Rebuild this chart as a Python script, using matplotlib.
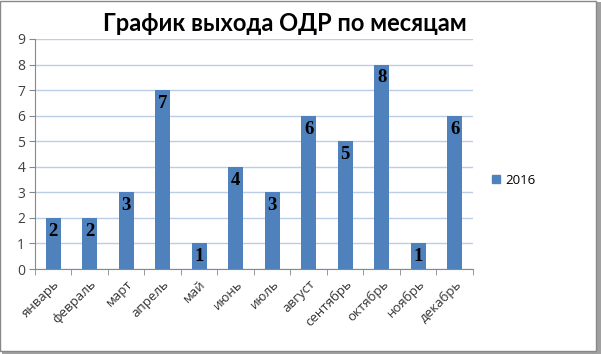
import matplotlib
matplotlib.use("Agg")
import matplotlib.pyplot as plt
from matplotlib.patches import Rectangle
from matplotlib.lines import Line2D

months = ["январь", "февраль", "март", "апрель", "май", "июнь", "июль",
          "август", "сентябрь", "октябрь", "ноябрь", "декабрь"]
values_2016 = [2, 2, 3, 7, 1, 4, 3, 6, 5, 8, 1, 6]
series_name = "2016"
title = "График выхода ОДР по месяцам"
yticks = list(range(0, 10))

bar_color = "#4F81BD"

fig = plt.figure(figsize=(6.01, 3.54), dpi=100)
fig.patch.set_facecolor("white")

# frame with shadow
fig.patches.append(Rectangle((0.004, 0.0), 0.996, 0.994, transform=fig.transFigure,
                             facecolor="#a0a0a0", edgecolor="none", zorder=-2))
fig.patches.append(Rectangle((0.0, 0.008), 0.992, 0.99, transform=fig.transFigure,
                             facecolor="white", edgecolor="#888888", lw=1.0, zorder=-1))

ax = fig.add_axes([0.058, 0.240, 0.729, 0.650])
ax.set_facecolor("none")
x = list(range(len(months)))
bars = ax.bar(x, values_2016, width=0.41, color=bar_color, zorder=3, label=series_name)

for xi, v in zip(x, values_2016):
    ax.annotate(str(v), (xi, v), xytext=(0, -3.5), textcoords="offset points",
                ha="center", va="top", fontsize=13.5, fontweight="bold",
                family="Liberation Serif", color="black", zorder=4)

ax.set_xlim(-0.5, len(months) - 0.5)
ax.set_ylim(0, 9)
ax.set_yticks(yticks)
ax.set_yticklabels([str(t) for t in yticks], family="Open Sans", fontsize=10, color="#404040")
ax.yaxis.grid(True, color="#bccde6", lw=1.0, zorder=0)
ax.set_axisbelow(True)

ax.set_xticks(x)
ax.set_xticklabels(months, rotation=45, ha="right", rotation_mode="anchor",
                   family="Open Sans", fontsize=9.5, color="#333333")
ax.tick_params(axis="x", length=0, pad=6)
ax.set_xticks([i - 0.5 for i in range(len(months) + 1)], minor=True)
ax.tick_params(axis="x", which="minor", length=4, color="#888888")
ax.tick_params(axis="y", length=4, color="#888888", pad=3)

for s in ["top", "right"]:
    ax.spines[s].set_visible(False)
ax.spines["left"].set_color("#888888")
ax.spines["bottom"].set_color("#888888")

fig.text(0.474, 0.933, title, ha="center", va="center", fontsize=17,
         fontweight="bold", family="Lato", color="black")

handle = Line2D([], [], marker="s", linestyle="none", markersize=6,
                markerfacecolor=bar_color, markeredgecolor=bar_color)
fig.legend([handle], [series_name], loc="center left", bbox_to_anchor=(0.795, 0.49),
           frameon=False, prop={"family": "Open Sans", "size": 9.5},
           handletextpad=0.2, handlelength=1.0)

fig.savefig("out.png", dpi=100)
